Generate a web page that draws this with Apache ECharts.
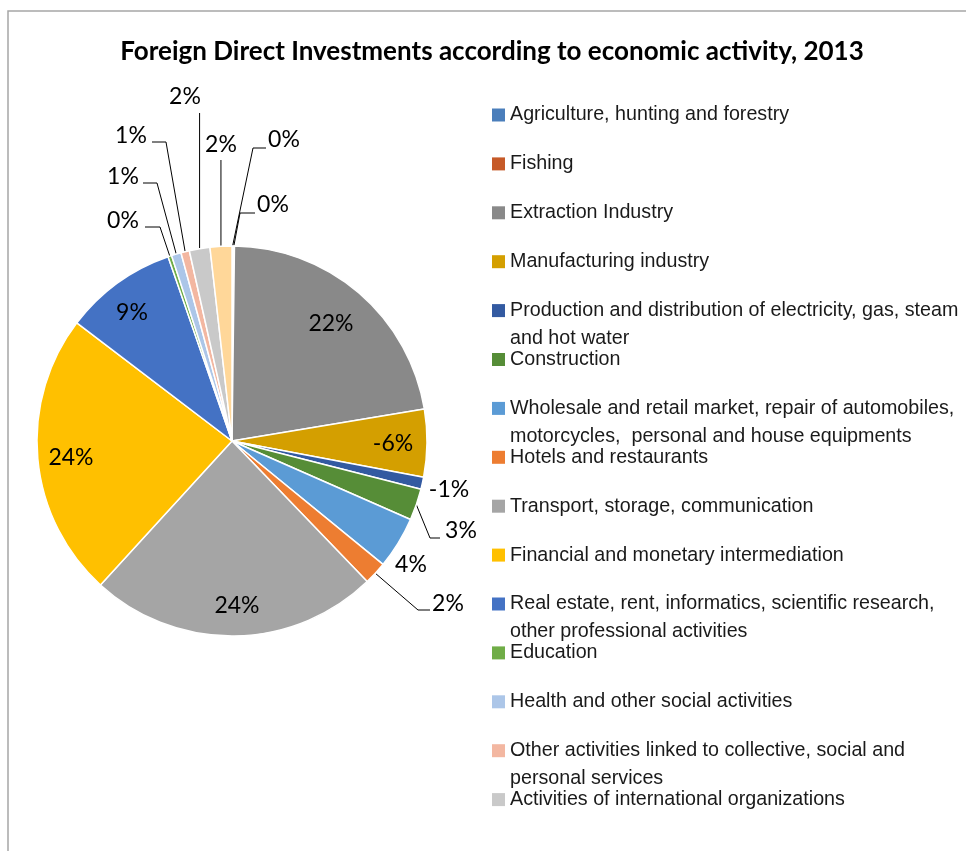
<!DOCTYPE html>
<html><head><meta charset="utf-8">
<script src="https://cdn.jsdelivr.net/npm/echarts@6/dist/echarts.min.js"></script>
<style>html,body{margin:0;padding:0;background:#fff}#c{width:966px;height:851px}</style>
</head><body><div id="c"></div>
<script>
// ---------- data ----------
const titleText = 'Foreign Direct Investments according to economic activity, 2013';
const categories = [
  'Agriculture, hunting and forestry',
  'Fishing',
  'Extraction Industry',
  'Manufacturing industry',
  'Production and distribution of electricity, gas, steam and hot water',
  'Construction',
  'Wholesale and retail market, repair of automobiles, motorcycles,  personal and house equipments',
  'Hotels and restaurants',
  'Transport, storage, communication',
  'Financial and monetary intermediation',
  'Real estate, rent, informatics, scientific research, other professional activities',
  'Education',
  'Health and other social activities',
  'Other activities linked to collective, social and personal services',
  'Activities of international organizations',
  'Not classified'
];
const shares = [0.1, 0.1, 22.1, -5.6, -1.0, 2.6, 4.3, 1.9, 23.9, 23.5, 9.3, 0.3, 0.8, 0.7, 1.7, 1.8];
const legendNames = categories.slice(0, 15);

// ---------- style ----------
const colors = ['#4A7EBB','#C65A28','#898989','#D49F00','#335AA1','#568D37','#5B9BD5','#ED7D31',
  '#A5A5A5','#FFC000','#4472C4','#70AD47','#ACC6E8','#F3B7A1','#C9C9C9','#FFD799'];
const insideIdx = [2, 3, 8, 9, 10];
const noLineIdx = [4, 6];
const labelSpots = {
  0: {c: [284, 139], line: [[253, 148], [266, 148]]},
  1: {c: [273, 204], line: [[240, 213], [255, 213]]},
  2: {c: [331, 323]},
  3: {c: [393, 443]},
  4: {c: [449, 489]},
  5: {c: [461, 530], line: [[430, 538], [440, 538]]},
  6: {c: [411, 564]},
  7: {c: [448, 603], line: [[418, 610], [430, 610]]},
  8: {c: [237, 605]},
  9: {c: [71, 457]},
  10: {c: [132, 312]},
  11: {c: [123, 220], line: [[160, 227], [145, 227]]},
  12: {c: [123, 176], line: [[157, 183], [143, 183]]},
  13: {c: [131, 135], line: [[166, 142], [152, 142]]},
  14: {c: [185, 96], vert: 113},
  15: {c: [221, 144], vert: 160}
};
// legend wrapping: number of words on the first line
const legendWrapWords = {4: 7, 6: 7, 10: 6, 13: 7};
const legendFirstCenter = 115, legendStep = 48.9, legendLine = 28;
const labelFont = 'Lato';

function wrapName(i) {
  const n = legendWrapWords[i];
  if (!n) return legendNames[i];
  const w = legendNames[i].split(' ');
  // a leading blank line keeps the first text line centred on the legend square
  return ' \n' + w.slice(0, n).join(' ') + '\n' + w.slice(n).join(' ');
}

const legends = legendNames.map((name, i) => {
  const text = wrapName(i);
  const extra = legendWrapWords[i] ? legendLine : 0;
  const center = legendFirstCenter + i * legendStep;
  return {
    orient: 'vertical',
    left: 492, top: center - legendLine / 2 - extra,
    padding: 0,
    data: [name],
    icon: 'rect',
    itemWidth: 13, itemHeight: 13,
    itemStyle: {borderWidth: 0},
    selectedMode: false,
    formatter: () => text,
    textStyle: {
      fontFamily: '"Liberation Sans"', fontSize: 19.7, color: '#1a1a1a',
      lineHeight: legendLine
    }
  };
});

const chart = echarts.init(document.getElementById('c'), null, {renderer: 'canvas'});
const pieData = categories.map((name, i) => {
  const inside = insideIdx.includes(i);
  return {
    name: name,
    value: Math.abs(shares[i]),
    signed: shares[i],
    itemStyle: {color: colors[i]},
    label: {position: inside ? 'inside' : 'outside'},
    labelLine: {show: !inside && !noLineIdx.includes(i)}
  };
});

chart.setOption({
  animation: false,
  backgroundColor: '#fff',
  title: {
    text: titleText,
    left: 487, top: 34, textAlign: 'center',
    textStyle: {fontFamily: labelFont, fontWeight: 'bold', fontSize: 26, color: '#000'}
  },
  legend: legends,
  graphic: [
    {type: 'rect', shape: {x: 8, y: 11, width: 1000, height: 900}, style: {fill: 'none', stroke: '#a6a6a6', lineWidth: 1.5}, silent: true, z: -10}
  ],
  series: [{
    type: 'pie',
    center: [232, 441],
    radius: 195,
    startAngle: 90,
    clockwise: true,
    avoidLabelOverlap: false,
    minShowLabelAngle: 0,
    itemStyle: {borderColor: '#fff', borderWidth: 1.5},
    emphasis: {disabled: true},
    label: {
      show: true,
      fontFamily: labelFont, fontSize: 23, color: '#000',
      formatter: p => Math.round(p.data.signed) + '%'
    },
    labelLine: {show: true, lineStyle: {color: '#000', width: 1}, length: 10, length2: 10},
    labelLayout: function (params) {
      const s = labelSpots[params.dataIndex];
      const out = {x: s.c[0], y: s.c[1] + 1, align: 'center', verticalAlign: 'middle'};
      const pts = params.labelLinePoints;
      if (pts && pts.length) {
        const a = pts[0];
        if (s.line) out.labelLinePoints = [a, s.line[0], s.line[1]];
        else if (s.vert != null) out.labelLinePoints = [a, [a[0], s.vert], [a[0], s.vert]];
      }
      return out;
    },
    data: pieData
  }]
});
</script></body></html>
